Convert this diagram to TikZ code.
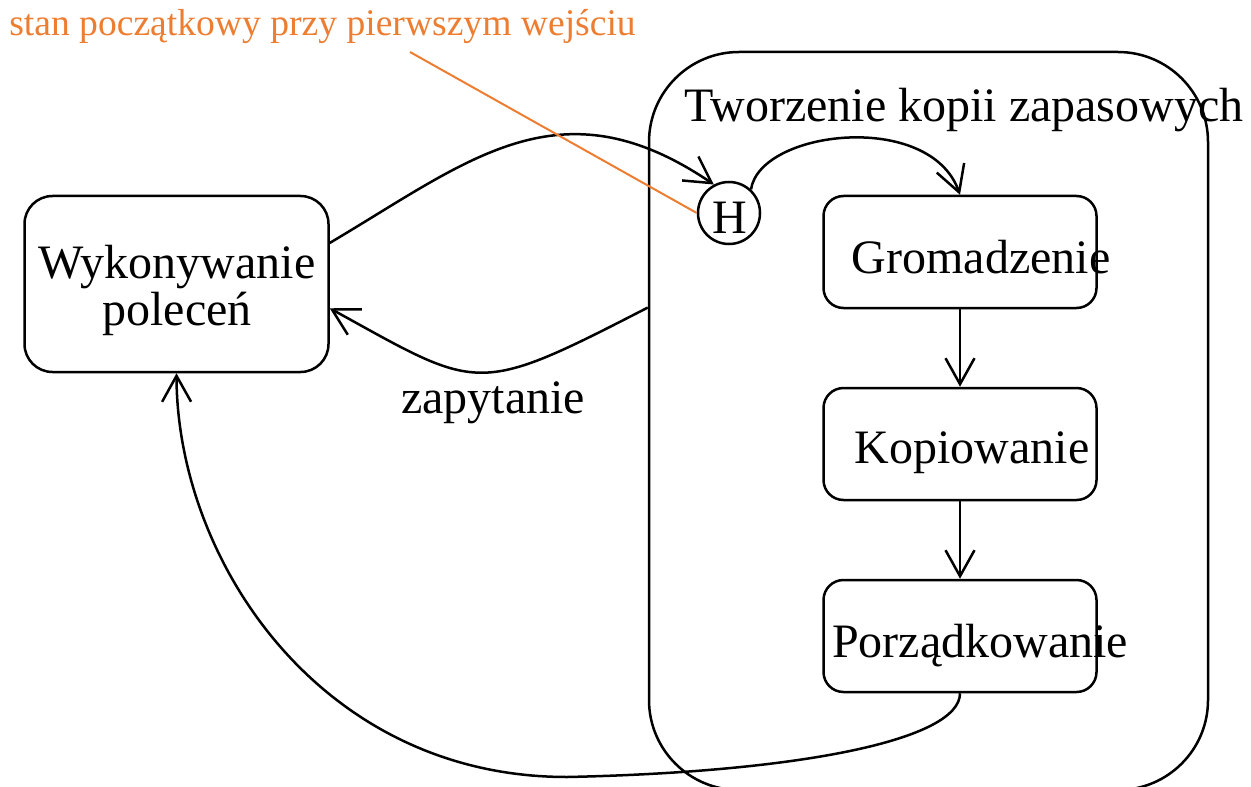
\documentclass[tikz,border=0pt]{standalone}
\usepackage{fontspec}
\setmainfont{Liberation Serif}
\usetikzlibrary{arrows.meta}
\definecolor{noteorange}{RGB}{237,125,49}
\begin{document}
\begin{tikzpicture}[x=0.5pt,y=-0.5pt,
  every node/.style={font=\fontsize{24}{24}\selectfont},
  box/.style={draw,line width=1.25pt,inner sep=0},
  state/.style={box,rounded corners=10pt,minimum width=136.5pt,minimum height=56pt},
  lbl/.style={anchor=base,inner sep=0},
  flow/.style={line width=1.25pt,-{Straight Barb[length=13pt,width=14.5pt]}}]
\clip (0,0) rectangle (1251,786);

% composite state and its title
\node[box,rounded corners=45pt,minimum width=279.5pt,minimum height=369pt] (B) at (928.5,421) {};
\node[lbl] (Btitle) at (964,122) {Tworzenie kopii zapasowych};

% command execution state
\node[box,rounded corners=14pt,minimum width=152pt,minimum height=88pt] (W) at (176.5,284) {};
\node[lbl] (W1) at (177,278) {Wykonywanie};
\node[lbl] (W2) at (177,325) {poleceń};

% history pseudostate
\node[box,circle,minimum size=31pt] (H) at (729,213) {};
\node[lbl] (Hl) at (730,234) {H};

% inner states
\node[state] (G) at (960,252) {};
\node[lbl] (Gl) at (981,273) {Gromadzenie};
\node[state] (K) at (960,444) {};
\node[lbl] (Kl) at (972,463) {Kopiowanie};
\node[state] (P) at (960,636) {};
\node[lbl] (Pl) at (980,657) {Porządkowanie};

% transitions
\draw[flow] (W.15.5) .. controls (470,160) and (560,80) .. (H.118);
\draw[flow] (H.47) .. controls (760,130) and (930,110) .. (G.north);
\draw[flow] (G.south) -- (K.north);
\draw[flow] (K.south) -- (P.north);
\draw[flow] (B.158.3) .. controls (474,397) and (480,391) .. (W.-9);
\node[lbl] (Q) at (493,413) {zapytanie};
\draw[flow] (P.south) .. controls (960,740) and (800,772) .. (567,777)
  .. controls (320,777) and (177,560) .. (W.south);

% note
\node[lbl,text=noteorange,font=\fontsize{18.8}{18.8}\selectfont] (note) at (322.5,36) {stan początkowy przy pierwszym wejściu};
\coordinate (notetail) at (410,52);
\draw[noteorange,line width=1pt] (notetail) -- (H.west);
\end{tikzpicture}
\end{document}
